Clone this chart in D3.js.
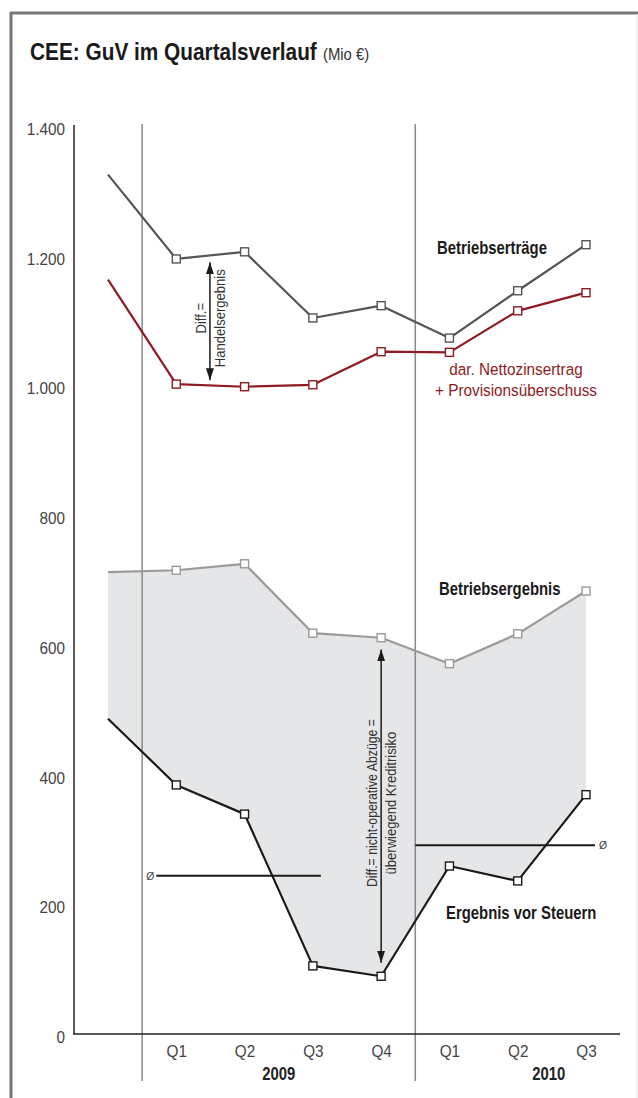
<!DOCTYPE html>
<html>
<head>
<meta charset="utf-8">
<script src="https://cdn.jsdelivr.net/npm/d3@7"></script>
<style>
  html, body { margin: 0; padding: 0; background: #fff; }
  svg { display: block; font-family: "Liberation Sans", Arial, sans-serif; }
</style>
</head>
<body>
<div id="chart"></div>
<script>
// quarters: first point is Q4 2008 (no marker, no label)
const periods = ['2008 Q4', '2009 Q1', '2009 Q2', '2009 Q3', '2009 Q4', '2010 Q1', '2010 Q2', '2010 Q3'];
const quarterLabels = ['', 'Q1', 'Q2', 'Q3', 'Q4', 'Q1', 'Q2', 'Q3'];
const years = ['2009', '2010'];
const yTicks = [0, 200, 400, 600, 800, 1000, 1200, 1400];

const betriebsertraege = [1325, 1195, 1206, 1104, 1123, 1073, 1146, 1217];
const nettozins = [1163, 1002, 998, 1001, 1052, 1051, 1115, 1143];
const betriebsergebnis = [712, 715, 725, 618, 611, 571, 617, 683];
const ergebnisVorSteuern = [486, 384, 339, 105, 89, 259, 236, 369];
const avgEvS = [244, 291]; // Ø 2009, Ø 2010 as drawn

const width = 638, height = 1098;
const BOLD_SX = 0.85, REG_SX = 0.9; // fake a condensed face

const svg = d3.select('#chart').append('svg')
  .attr('width', width)
  .attr('height', height);

// condensed text helper
function ctext(parent, txt, tx, ty, o) {
  o = o || {};
  const sx = o.sx || (o.bold ? BOLD_SX : REG_SX);
  return parent.append('text')
    .attr('transform', `translate(${tx},${ty})${o.rotate ? ' rotate(-90)' : ''} scale(${sx},1)`)
    .attr('text-anchor', o.anchor || 'start')
    .attr('font-size', o.size || 17)
    .attr('font-weight', o.bold ? 'bold' : 'normal')
    .attr('fill', o.color || '#1a1a1a')
    .text(txt);
}

// frame
svg.append('line').attr('x1', 10).attr('x2', 638).attr('y1', 13).attr('y2', 13)
  .attr('stroke', '#777').attr('stroke-width', 3);
svg.append('line').attr('x1', 11).attr('x2', 11).attr('y1', 12).attr('y2', height)
  .attr('stroke', '#777').attr('stroke-width', 3);
svg.append('line').attr('x1', 637).attr('x2', 637).attr('y1', 14).attr('y2', height)
  .attr('stroke', '#e2e2e2').attr('stroke-width', 1);

// title
ctext(svg, 'CEE: GuV im Quartalsverlauf', 30, 60, { bold: true, size: 24.5 });
ctext(svg, '(Mio €)', 323, 60, { size: 16.5, color: '#333' });

// scales
const x = d3.scalePoint().domain(periods).range([108, 586]);
const step = x.step();
const y = d3.scaleLinear().domain([0, 1400]).range([1034, 126]);

const de = d3.formatLocale({ decimal: ',', thousands: '.', grouping: [3], currency: ['', ' €'] });
const fmt = de.format(',d');

// area between Betriebsergebnis and Ergebnis vor Steuern
const areaData = periods.map((p, i) => ({ p, top: betriebsergebnis[i], bottom: ergebnisVorSteuern[i] }));
svg.append('path')
  .datum(areaData)
  .attr('fill', '#e5e6e8')
  .attr('d', d3.area().x(d => x(d.p)).y0(d => y(d.bottom)).y1(d => y(d.top)));

// year separators
const sep1 = (x('2008 Q4') + x('2009 Q1')) / 2;
const sep2 = (x('2009 Q4') + x('2010 Q1')) / 2;
[sep1, sep2].forEach(sx => {
  svg.append('line').attr('x1', sx).attr('x2', sx).attr('y1', 124).attr('y2', 1081)
    .attr('stroke', '#888').attr('stroke-width', 1.5);
});

// y axis
const yAxis = svg.append('g')
  .attr('transform', 'translate(74,3)')
  .call(d3.axisLeft(y).tickValues(yTicks).tickSize(0).tickPadding(10).tickFormat(fmt));
yAxis.select('.domain').remove();
yAxis.selectAll('text')
  .attr('font-size', 17).attr('fill', '#444').attr('font-family', null)
  .attr('transform', `scale(${REG_SX},1)`);
svg.append('line').attr('x1', 74).attr('x2', 74).attr('y1', 125).attr('y2', y(0))
  .attr('stroke', '#222').attr('stroke-width', 1.5);

// x axis
svg.append('line').attr('x1', 73).attr('x2', 620).attr('y1', y(0)).attr('y2', y(0))
  .attr('stroke', '#222').attr('stroke-width', 1.5);
const xAxis = svg.append('g')
  .attr('transform', `translate(0,${y(0)})`)
  .call(d3.axisBottom(x).tickSize(0).tickPadding(11).tickFormat((d, i) => quarterLabels[i]));
xAxis.select('.domain').remove();
xAxis.selectAll('text')
  .attr('font-size', 17).attr('fill', '#444').attr('font-family', null)
  .attr('transform', `scale(${REG_SX},1)`);

// year labels
const yearCenters = [x('2009 Q1') + 1.5 * step, x('2010 Q1') + 1.5 * step - 3];
years.forEach((yr, i) => ctext(svg, yr, yearCenters[i], 1080, { anchor: 'middle', bold: true, size: 17.5, color: '#222' }));

// average lines (Ø)
const avgSpans = [[x('2009 Q1') - 20, x('2009 Q3') + 8], [sep2, x('2010 Q3') + 9]];
avgSpans.forEach((s, i) => {
  svg.append('line').attr('x1', s[0]).attr('x2', s[1])
    .attr('y1', y(avgEvS[i])).attr('y2', y(avgEvS[i]))
    .attr('stroke', '#1a1a1a').attr('stroke-width', 2.2);
});
ctext(svg, 'Ø', avgSpans[0][0] - 2, y(avgEvS[0]) + 4, { anchor: 'end', size: 11.5, color: '#444' });
ctext(svg, 'Ø', avgSpans[1][1] + 4, y(avgEvS[1]) + 4, { size: 11.5, color: '#444' });

// lines + markers
const series = [
  { values: betriebsertraege, color: '#555555' },
  { values: nettozins, color: '#8e1b22' },
  { values: betriebsergebnis, color: '#9a9a9a' },
  { values: ergebnisVorSteuern, color: '#1a1a1a' }
];
const line = d3.line().x(d => x(d.p)).y(d => y(d.v));
series.forEach(s => {
  const pts = periods.map((p, i) => ({ p, v: s.values[i] }));
  svg.append('path').datum(pts)
    .attr('fill', 'none').attr('stroke', s.color).attr('stroke-width', 2.2)
    .attr('stroke-linejoin', 'round')
    .attr('d', line);
  svg.selectAll(null).data(pts.slice(1)).enter().append('rect')
    .attr('x', d => x(d.p) - 4).attr('y', d => y(d.v) - 4)
    .attr('width', 8).attr('height', 8)
    .attr('fill', '#fff').attr('stroke', s.color).attr('stroke-width', 1.4);
});

// arrow markers
const defs = svg.append('defs');
defs.append('marker')
  .attr('id', 'arrow')
  .attr('viewBox', '0 0 12 8')
  .attr('refX', 12).attr('refY', 4)
  .attr('markerWidth', 12).attr('markerHeight', 8)
  .attr('markerUnits', 'userSpaceOnUse')
  .attr('orient', 'auto-start-reverse')
  .append('path').attr('d', 'M0,0 L12,4 L0,8 Z').attr('fill', '#1a1a1a');

function diffArrow(ax, v1, v2, lines, sxFirst) {
  const y1 = y(v1), y2 = y(v2);
  svg.append('line').attr('x1', ax).attr('x2', ax).attr('y1', y1).attr('y2', y2)
    .attr('stroke', '#1a1a1a').attr('stroke-width', 1.5)
    .attr('marker-start', 'url(#arrow)').attr('marker-end', 'url(#arrow)');
  const cy = (y1 + y2) / 2;
  lines.forEach((t, i) => {
    ctext(svg, t, ax + (i === 0 ? -4 : 15), cy - 3,
      { rotate: true, anchor: 'middle', size: 14.5, color: '#333', sx: i === 0 ? sxFirst : undefined });
  });
}
diffArrow((x('2009 Q1') + x('2009 Q2')) / 2 - 0.5, 1190, 1008, ['Diff.=', 'Handelsergebnis']);
diffArrow(x('2009 Q4'), 593, 110, ['Diff.= nicht-operative Abzüge =', 'überwiegend Kreditrisiko'], 0.85);

// series labels
ctext(svg, 'Betriebserträge', 437, 254, { bold: true, size: 17.5 });
ctext(svg, 'dar. Nettozinsertrag', 516, 375, { anchor: 'middle', color: '#8e1b22', size: 17 });
ctext(svg, '+ Provisionsüberschuss', 516, 396, { anchor: 'middle', color: '#8e1b22', size: 17 });
ctext(svg, 'Betriebsergebnis', 439, 595, { bold: true, size: 17.5 });
ctext(svg, 'Ergebnis vor Steuern', 446, 919, { bold: true, size: 17.5 });
</script>
</body>
</html>
